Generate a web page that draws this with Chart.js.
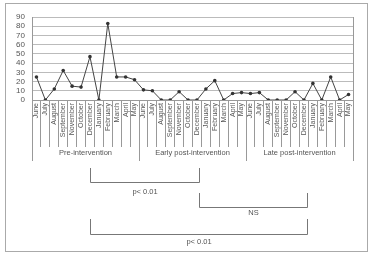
<!DOCTYPE html>
<html>
<head>
<meta charset="utf-8">
<script src="https://cdn.jsdelivr.net/npm/chart.js@4/dist/chart.umd.min.js"></script>
<style>
  body { margin: 0; background: #fff; }
  canvas { display: block; }
</style>
</head>
<body>
<canvas id="myCanvas" width="371" height="254"></canvas>
<script>
// month order as printed on the original axis
const months = ["June", "July", "August", "September", "November", "October",
  "December", "January", "February", "March", "April", "May"];
const monthLabels = [...months, ...months, ...months];

const preValues = [25, 0, 12, 32, 15, 14, 47, 0, 83, 25, 25, 22];
const earlyValues = [11, 10, 0, 0, 9, 0, 0, 12, 21, 0, 7, 8];
const lateValues = [7, 8, 0, 0, 0, 9, 0, 18, 0, 25, 0, 6];

const groupNames = ["Pre-intervention", "Early post-intervention", "Late post-intervention"];
const yTicks = [0, 10, 20, 30, 40, 50, 60, 70, 80, 90];

// comparison brackets (category index positions) and their labels
const brackets = [
  { from: 6, to: 18.2, top: 168, bottom: 182, textY: 192, text: "p< 0.01" },
  { from: 18.2, to: 30.3, top: 193, bottom: 207, textY: 213, text: "NS" },
  { from: 6, to: 30.3, top: 219, bottom: 234, textY: 242, text: "p< 0.01" },
];

const allValues = [...preValues, ...earlyValues, ...lateValues];
const fontName = "'Liberation Sans', Arial, sans-serif";

const extrasPlugin = {
  id: "extras",
  afterDraw(chart) {
    const ctx = chart.ctx;
    const area = chart.chartArea;
    const xs = chart.scales.x;
    ctx.save();

    // plot box right side
    ctx.strokeStyle = "#999";
    ctx.lineWidth = 1;
    ctx.beginPath();
    ctx.moveTo(Math.round(area.right) + 0.5, area.top);
    ctx.lineTo(Math.round(area.right) + 0.5, area.bottom);
    ctx.stroke();

    // group separators and names
    ctx.fillStyle = "#555";
    ctx.font = "7.5px " + fontName;
    ctx.textAlign = "center";
    ctx.textBaseline = "middle";
    for (let g = 0; g <= 3; g++) {
      const x = Math.round(xs.getPixelForValue(g * 12 - 0.5)) + 0.5;
      ctx.beginPath();
      ctx.moveTo(x, area.bottom);
      ctx.lineTo(x, 161);
      ctx.stroke();
      if (g < 3) {
        const cx = xs.getPixelForValue(g * 12 + 5.5);
        ctx.fillText(groupNames[g], cx, 153);
      }
    }

    // comparison brackets
    ctx.strokeStyle = "#777";
    brackets.forEach((b) => {
      const x1 = Math.round(xs.getPixelForValue(b.from)) + 0.5;
      const x2 = Math.round(xs.getPixelForValue(b.to)) + 0.5;
      ctx.beginPath();
      ctx.moveTo(x1, b.top);
      ctx.lineTo(x1, b.bottom + 0.5);
      ctx.lineTo(x2, b.bottom + 0.5);
      ctx.lineTo(x2, b.top);
      ctx.stroke();
      ctx.fillText(b.text, (x1 + x2) / 2, b.textY);
    });

    // outer frame
    ctx.strokeStyle = "#aaa";
    ctx.strokeRect(5.5, 3.5, 362, 248);
    ctx.restore();
  },
};

const config = {
  type: "line",
  data: {
    labels: monthLabels,
    datasets: [
      {
        data: allValues,
        borderColor: "#444",
        borderWidth: 1,
        pointRadius: 1.8,
        pointBackgroundColor: "#333",
        pointBorderColor: "#333",
        pointBorderWidth: 0,
        tension: 0,
      },
    ],
  },
  options: {
    responsive: false,
    animation: false,
    layout: { padding: { left: 0, top: 17, right: 18, bottom: 0 } },
    plugins: { legend: { display: false }, tooltip: { enabled: false } },
    scales: {
      x: {
        offset: true,
        afterFit: (scale) => { scale.height = 154; },
        border: { color: "#999" },
        grid: {
          offset: true,
          drawOnChartArea: false,
          drawTicks: true,
          tickLength: 47,
          color: "#999",
        },
        ticks: {
          autoSkip: false,
          minRotation: 90,
          maxRotation: 90,
          padding: -44,
          color: "#555",
          font: { family: fontName, size: 7 },
        },
      },
      y: {
        min: 0,
        max: 90,
        afterFit: (scale) => { scale.width = 32; },
        afterBuildTicks: (scale) => { scale.ticks = yTicks.map((v) => ({ value: v })); },
        border: { color: "#999" },
        grid: { color: "#bbb", drawTicks: false },
        ticks: {
          autoSkip: false,
          stepSize: 10,
          padding: 7,
          color: "#555",
          font: { family: fontName, size: 8 },
        },
      },
    },
  },
  plugins: [extrasPlugin],
};

const myChart = new Chart(document.querySelector("#myCanvas"), config);
</script>
</body>
</html>
